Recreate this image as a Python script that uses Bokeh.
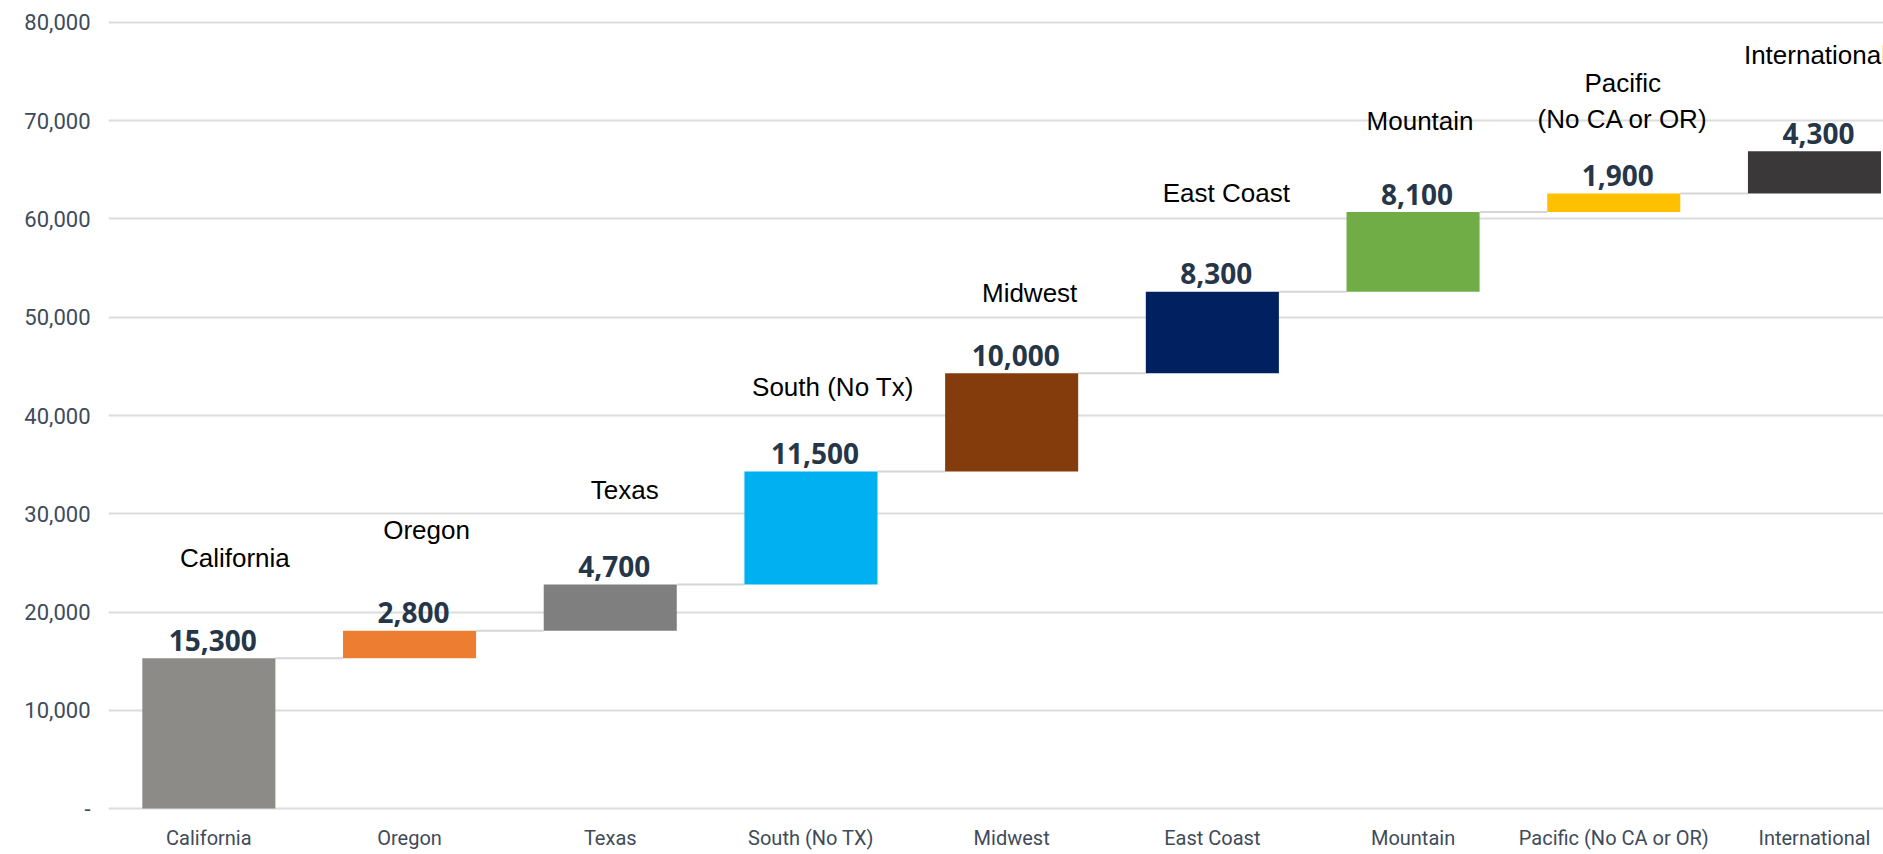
from bokeh.plotting import figure
from bokeh.models import ColumnDataSource, Range1d, FixedTicker, NumeralTickFormatter
from bokeh.core.properties import value
from bokeh.embed import file_html
from bokeh.resources import INLINE

# ---- data ----
categories = ["California", "Oregon", "Texas", "South (No TX)", "Midwest",
              "East Coast", "Mountain", "Pacific (No CA or OR)", "International"]
bar_titles = ["California", "Oregon", "Texas", "South (No Tx)", "Midwest",
              "East Coast", "Mountain", "Pacific\n(No CA or OR)", "International"]
increments = [15300, 2800, 4700, 11500, 10000, 8300, 8100, 1900, 4300]
y_ticks = [0, 10000, 20000, 30000, 40000, 50000, 60000, 70000, 80000]

# ---- styling / layout ----
colors = ["#8d8b87", "#ed7d31", "#7f7f7f", "#00b0f0", "#843c0c",
          "#002060", "#70ad47", "#ffc000", "#3a3838"]
title_dx = [26, 17, 14.5, 22, 18, 14, 7, 9, 1]
title_dy = [-100.6, -100.6, -95, -85, -80.5, -99, -91, -92.6, -96]
bar_w = 0.663

n = len(categories)
xs = [i + 0.5 for i in range(n)]
bottoms, tops = [], []
run = 0
for v in increments:
    bottoms.append(run)
    run += v
    tops.append(run)

src = ColumnDataSource(dict(
    x=xs, bottom=bottoms, top=tops, color=colors,
    label=[f"{v:,}" for v in increments], title=bar_titles,
    dx=title_dx, dy=title_dy,
))

p = figure(width=1883, height=854,
           x_range=Range1d(0, 8.844), y_range=Range1d(-300, 80300),
           output_backend="svg", toolbar_location=None,
           min_border_left=108, min_border_right=0,
           min_border_top=19, min_border_bottom=43)
p.background_fill_color = "white"
p.border_fill_color = "white"
p.outline_line_color = None

# connectors
cx0 = [xs[i] + bar_w / 2 for i in range(n - 1)]
cx1 = [xs[i + 1] - bar_w / 2 for i in range(n - 1)]
cy = tops[:-1]
p.segment(x0=cx0, y0=cy, x1=cx1, y1=cy, line_color="#d6d6d6", line_width=2)

p.vbar(x="x", bottom="bottom", top="top", width=bar_w, fill_color="color",
       line_color=None, source=src)

p.text(x="x", y="top", text="label", source=src, x_offset=4, y_offset=-18,
       text_font=value("Open Sans"), text_font_style="bold",
       text_font_size="28px", text_color="#253649",
       text_align="center", text_baseline="middle")

p.text(x="x", y="top", text="title", source=src, x_offset="dx", y_offset="dy",
       text_font=value("Liberation Sans"), text_font_size="26px",
       text_color="black", text_align="center", text_baseline="middle",
       text_line_height=1.2)

# axes
p.xaxis.ticker = FixedTicker(ticks=xs)
p.xaxis.major_label_overrides = {x: c for x, c in zip(xs, categories)}
p.xaxis.axis_line_color = None
p.xaxis.major_tick_line_color = None
p.xaxis.minor_tick_line_color = None
p.xaxis.major_tick_out = 0
p.xaxis.major_tick_in = 0
p.xaxis.major_label_text_font = "Roboto"
p.xaxis.major_label_text_font_size = "20px"
p.xaxis.major_label_text_color = "#404b59"
p.xaxis.major_label_standoff = 14

p.yaxis.ticker = FixedTicker(ticks=y_ticks)
p.yaxis.formatter = NumeralTickFormatter(format="0,0")
p.yaxis.major_label_overrides = {0: "-"}
p.yaxis.axis_line_color = None
p.yaxis.major_tick_line_color = None
p.yaxis.minor_tick_line_color = None
p.yaxis.major_tick_out = 0
p.yaxis.major_tick_in = 0
p.yaxis.major_label_text_font = "Roboto"
p.yaxis.major_label_text_font_size = "22px"
p.yaxis.major_label_text_color = "#3e4b5b"
p.yaxis.major_label_standoff = 18

p.xgrid.visible = False
p.ygrid.grid_line_color = "#dcdcdc"
p.ygrid.grid_line_width = 2

open("out.html", "w").write(file_html(p, INLINE))
